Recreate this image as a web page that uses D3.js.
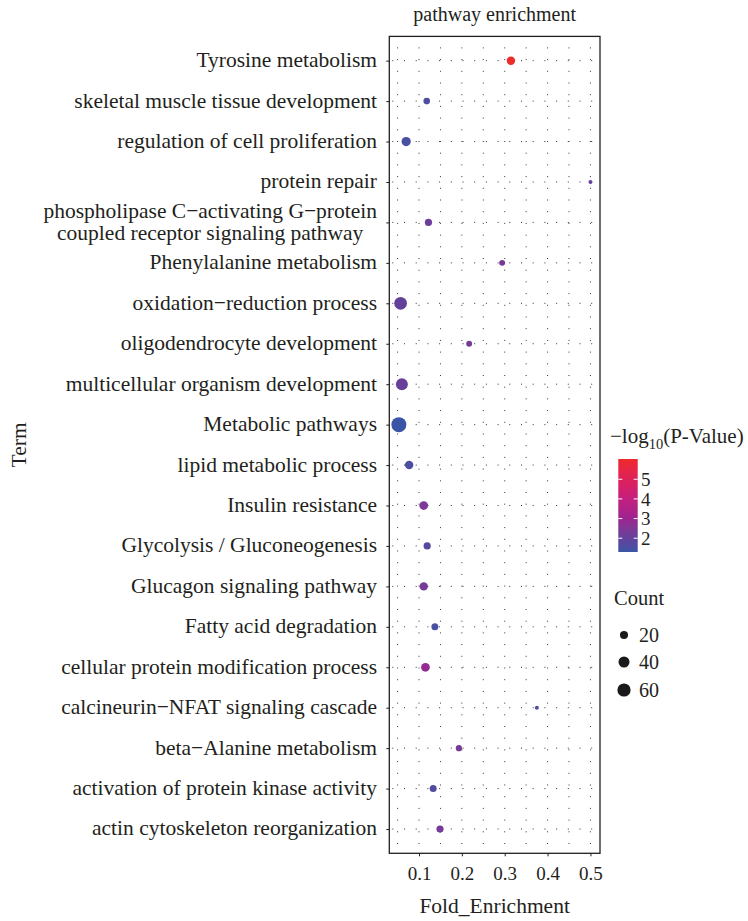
<!DOCTYPE html>
<html>
<head>
<meta charset="utf-8">
<script src="https://cdn.jsdelivr.net/npm/d3@7"></script>
<style>
  html, body { margin: 0; padding: 0; background: #fff; }
  svg { display: block; }
  text { font-family: "Liberation Serif", "DejaVu Serif", serif; fill: #231F20; }
</style>
</head>
<body>
<svg id="chart" width="748" height="921"></svg>
<script>
// ---------------- data ----------------
const terms = [
  "Tyrosine metabolism",
  "skeletal muscle tissue development",
  "regulation of cell proliferation",
  "protein repair",
  "phospholipase C\u2212activating G\u2212protein\ncoupled receptor signaling pathway",
  "Phenylalanine metabolism",
  "oxidation\u2212reduction process",
  "oligodendrocyte development",
  "multicellular organism development",
  "Metabolic pathways",
  "lipid metabolic process",
  "Insulin resistance",
  "Glycolysis / Gluconeogenesis",
  "Glucagon signaling pathway",
  "Fatty acid degradation",
  "cellular protein modification process",
  "calcineurin\u2212NFAT signaling cascade",
  "beta\u2212Alanine metabolism",
  "activation of protein kinase activity",
  "actin cytoskeleton reorganization"
];
const foldEnrichment = [0.3145, 0.118, 0.070, 0.500, 0.122, 0.294, 0.057, 0.217, 0.060, 0.053,
                        0.077, 0.111, 0.119, 0.111, 0.137, 0.115, 0.375, 0.193, 0.133, 0.149];
const counts = [22, 12, 27, 2, 15, 9, 55, 9, 48, 78,
                22, 24, 15, 22, 14, 24, 2, 10, 14, 15];
const negLog10P = [6.03, 1.6, 1.5, 1.95, 2.15, 2.35, 2.0, 2.25, 2.1, 1.3,
                   1.55, 2.4, 1.75, 2.3, 1.5, 2.85, 1.6, 2.35, 1.65, 2.3];
const xTicks = [0.1, 0.2, 0.3, 0.4, 0.5];
const xGrid = [0.05, 0.1, 0.15, 0.2, 0.25, 0.3, 0.35, 0.4, 0.45, 0.5];
const colorTicks = [2, 3, 4, 5];
const sizeBreaks = [20, 40, 60];

// ---------------- layout ----------------
const svg = d3.select("#chart");
const P = { left: 389.3, right: 600, top: 36.4, bottom: 853.3 };

const xExt = d3.extent(foldEnrichment);
const xPad = (xExt[1] - xExt[0]) * 0.05;
const x = d3.scaleLinear().domain([xExt[0] - xPad, xExt[1] + xPad]).range([P.left, P.right]);
const y = d3.scalePoint().domain(terms).range([P.top, P.bottom]).padding(0.6);

const cExt = d3.extent(negLog10P);
const color = d3.scaleLinear()
  .domain([cExt[0], 2, 3, 4, 5, cExt[1]])
  .range(["#3A55A5", "#63419B", "#9C2490", "#C41F7E", "#DD215A", "#EE2A2B"])
  .interpolate(d3.interpolateLab);

const cntExt = d3.extent(counts);
const area = d3.scaleLinear().domain(cntExt).range([4, 56.25]);
const rad = c => Math.sqrt(area(c));

// ---------------- grid ----------------
const grid = svg.append("g");
grid.selectAll("line.v").data(xGrid).join("line")
  .attr("x1", d => x(d)).attr("x2", d => x(d))
  .attr("y1", P.top).attr("y2", P.bottom)
  .attr("stroke", "#333").attr("stroke-width", 1)
  .attr("stroke-dasharray", "1,10.7").attr("stroke-dashoffset", -11);
grid.selectAll("line.h").data(terms).join("line")
  .attr("x1", P.left).attr("x2", P.right)
  .attr("y1", d => y(d)).attr("y2", d => y(d))
  .attr("stroke", "#333").attr("stroke-width", 1)
  .attr("stroke-dasharray", "1,10.7").attr("stroke-dashoffset", -3);

// ---------------- points ----------------
const pts = terms.map((t, i) => ({ t, f: foldEnrichment[i], c: counts[i], p: negLog10P[i] }));
svg.append("g").selectAll("circle").data(pts).join("circle")
  .attr("cx", d => x(d.f)).attr("cy", d => y(d.t))
  .attr("r", d => rad(d.c))
  .attr("fill", d => color(d.p));

// ---------------- panel border ----------------
svg.append("rect")
  .attr("x", P.left).attr("y", P.top)
  .attr("width", P.right - P.left).attr("height", P.bottom - P.top)
  .attr("fill", "none").attr("stroke", "#231F20").attr("stroke-width", 1.3);

// ---------------- axes ----------------
const yAxis = d3.axisLeft(y).tickSize(3).tickPadding(0).tickFormat("");
const gy = svg.append("g").attr("transform", `translate(${P.left},0)`).call(yAxis);
gy.select(".domain").remove();
gy.selectAll(".tick line").attr("stroke", "#231F20");

const gyl = svg.append("g");
terms.forEach(t => {
  const lines = t.split("\n");
  const txt = gyl.append("text").attr("font-size", 21.5);
  if (lines.length === 1) {
    txt.attr("x", 377).attr("y", y(t)).attr("dy", "0.3em")
      .attr("text-anchor", "end").text(t);
  } else {
    const lh = 22.6;
    const spans = lines.map((l, i) => txt.append("tspan").text(l)
      .attr("y", y(t) + (i - (lines.length - 1) / 2) * lh).attr("dy", "0.3em"));
    const wmax = d3.max(spans, s => s.node().getComputedTextLength());
    spans.forEach(s => s.attr("x", 377 - wmax / 2));
    txt.attr("text-anchor", "middle");
  }
});

const xAxis = d3.axisBottom(x).tickValues(xTicks).tickSize(3).tickPadding(0).tickFormat(d3.format(".1f"));
const gx = svg.append("g").attr("transform", `translate(0,${P.bottom})`).call(xAxis);
gx.select(".domain").remove();
gx.selectAll(".tick line").attr("stroke", "#231F20");
gx.selectAll(".tick text").attr("font-size", 19).attr("dy", null).attr("y", 27)
  .attr("font-family", "Liberation Serif").attr("fill", "#231F20");

// titles
svg.append("text").attr("x", (P.left + P.right) / 2).attr("y", 21)
  .attr("text-anchor", "middle").attr("font-size", 20).text("pathway enrichment");
svg.append("text").attr("x", (P.left + P.right) / 2).attr("y", 913)
  .attr("text-anchor", "middle").attr("font-size", 21.5).text("Fold_Enrichment");
svg.append("text").attr("transform", `translate(26,${(P.top + P.bottom) / 2}) rotate(-90)`)
  .attr("text-anchor", "middle").attr("font-size", 21.5).text("Term");

// ---------------- colour legend ----------------
const lt = svg.append("text").attr("x", 610).attr("y", 443).attr("font-size", 21);
lt.append("tspan").text("\u2212log");
lt.append("tspan").attr("font-size", 14.5).attr("dy", 6).text("10");
lt.append("tspan").attr("dy", -6).text("(P-Value)");

const cb = { x: 618.3, w: 19.4, top: 459, bottom: 552 };
const cy = d3.scaleLinear().domain(cExt).range([cb.bottom, cb.top]);
const defs = svg.append("defs");
const grad = defs.append("linearGradient").attr("id", "cbar")
  .attr("x1", 0).attr("y1", 1).attr("x2", 0).attr("y2", 0);
d3.range(0, 1.0001, 0.05).forEach(s => {
  grad.append("stop").attr("offset", s)
    .attr("stop-color", color(cExt[0] + s * (cExt[1] - cExt[0])));
});
svg.append("rect").attr("x", cb.x).attr("y", cb.top)
  .attr("width", cb.w).attr("height", cb.bottom - cb.top).attr("fill", "url(#cbar)");
const ct = svg.append("g");
colorTicks.forEach(v => {
  ct.append("line").attr("x1", cb.x).attr("x2", cb.x + 4)
    .attr("y1", cy(v)).attr("y2", cy(v)).attr("stroke", "#fff").attr("stroke-width", 1);
  ct.append("line").attr("x1", cb.x + cb.w - 4).attr("x2", cb.x + cb.w)
    .attr("y1", cy(v)).attr("y2", cy(v)).attr("stroke", "#fff").attr("stroke-width", 1);
  ct.append("text").attr("x", 641).attr("y", cy(v)).attr("dy", "0.35em")
    .attr("font-size", 19).text(v);
});

// ---------------- size legend ----------------
svg.append("text").attr("x", 614).attr("y", 605).attr("font-size", 20.5).text("Count");
const sy = [635, 662, 690];
sizeBreaks.forEach((b, i) => {
  svg.append("circle").attr("cx", 624).attr("cy", sy[i]).attr("r", rad(b)).attr("fill", "#1a1a1a");
  svg.append("text").attr("x", 639).attr("y", sy[i]).attr("dy", "0.35em")
    .attr("font-size", 20).text(b);
});
</script>
</body>
</html>
